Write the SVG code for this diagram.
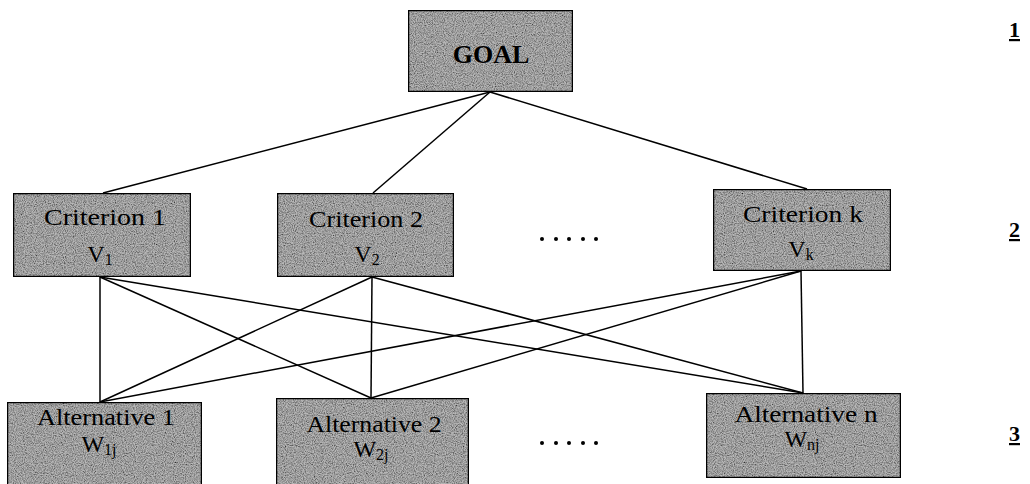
<svg xmlns="http://www.w3.org/2000/svg" width="1030" height="484" viewBox="0 0 1030 484">
  <defs>
    <filter id="grain" x="0" y="0" width="100%" height="100%">
      <feTurbulence type="fractalNoise" baseFrequency="0.9" numOctaves="2" seed="3" result="noise"/>
      <feColorMatrix in="noise" type="matrix" values="0 0 0 0 0  0 0 0 0 0  0 0 0 0 0  0 0 0 -1.6 1.1" result="dark"/>
      <feComposite in="dark" in2="SourceGraphic" operator="in" result="speck"/>
      <feMerge>
        <feMergeNode in="SourceGraphic"/>
        <feMergeNode in="speck"/>
      </feMerge>
    </filter>
  </defs>
  <style>
    .box { fill: #b8b8b8; stroke: #000; stroke-width: 2.5; }
    .lbl { font-family: "Liberation Serif", "Times New Roman", serif; font-size: 24px; fill: #000; text-anchor: middle; }
    .goal { font-family: "Liberation Serif", "Times New Roman", serif; font-size: 26px; font-weight: bold; fill: #000; text-anchor: middle; }
    .sub { font-size: 16px; }
    .lvl { font-family: "Liberation Serif", "Times New Roman", serif; font-size: 22px; font-weight: bold; fill: #000; text-decoration: underline; }
    .edge { stroke: #000; stroke-width: 1.5; fill: none; }
    .dot { fill: #000; }
  </style>
  <rect width="1030" height="484" fill="#fff"/>

  <g id="connectors">
    <line class="edge" x1="490" y1="92" x2="103" y2="193"/>
    <line class="edge" x1="490" y1="92" x2="373" y2="193"/>
    <line class="edge" x1="490" y1="92" x2="807" y2="189"/>

    <line class="edge" x1="100" y1="277" x2="100" y2="402"/>
    <line class="edge" x1="100" y1="277" x2="371" y2="398"/>
    <line class="edge" x1="100" y1="277" x2="803" y2="393"/>

    <line class="edge" x1="372" y1="277" x2="100" y2="402"/>
    <line class="edge" x1="372" y1="277" x2="371" y2="398"/>
    <line class="edge" x1="372" y1="277" x2="803" y2="393"/>

    <line class="edge" x1="801" y1="271" x2="100" y2="402"/>
    <line class="edge" x1="801" y1="271" x2="371" y2="398"/>
    <line class="edge" x1="801" y1="271" x2="803" y2="393"/>
  </g>

  <g id="goal">
    <rect class="box" x="408" y="10" width="165" height="82" filter="url(#grain)"/>
    <text class="goal" x="491" y="63">GOAL</text>
  </g>

  <g id="criterion1">
    <rect class="box" x="13" y="193" width="178" height="84" filter="url(#grain)"/>
    <text class="lbl" x="105" y="225" textLength="122" lengthAdjust="spacingAndGlyphs">Criterion 1</text>
    <text class="lbl" x="100" y="262">V<tspan class="sub" dy="3">1</tspan></text>
  </g>

  <g id="criterion2">
    <rect class="box" x="277" y="193" width="177" height="84" filter="url(#grain)"/>
    <text class="lbl" x="366" y="227" textLength="114" lengthAdjust="spacingAndGlyphs">Criterion 2</text>
    <text class="lbl" x="367" y="262">V<tspan class="sub" dy="3">2</tspan></text>
  </g>

  <g id="criterionk">
    <rect class="box" x="713" y="189" width="178" height="82" filter="url(#grain)"/>
    <text class="lbl" x="803" y="222" textLength="120" lengthAdjust="spacingAndGlyphs">Criterion k</text>
    <text class="lbl" x="801" y="257">V<tspan class="sub" dy="3">k</tspan></text>
  </g>

  <g id="alternative1">
    <rect class="box" x="7" y="402" width="195" height="84" filter="url(#grain)"/>
    <text class="lbl" x="106" y="425" textLength="138" lengthAdjust="spacingAndGlyphs">Alternative 1</text>
    <text class="lbl" x="99" y="452">W<tspan class="sub" dy="3">1j</tspan></text>
  </g>

  <g id="alternative2">
    <rect class="box" x="276" y="398" width="193" height="88" filter="url(#grain)"/>
    <text class="lbl" x="374" y="432" textLength="135" lengthAdjust="spacingAndGlyphs">Alternative 2</text>
    <text class="lbl" x="371" y="457">W<tspan class="sub" dy="3">2j</tspan></text>
  </g>

  <g id="alternativen">
    <rect class="box" x="706" y="393" width="195" height="85" filter="url(#grain)"/>
    <text class="lbl" x="806" y="422" textLength="143" lengthAdjust="spacingAndGlyphs">Alternative n</text>
    <text class="lbl" x="802" y="447">W<tspan class="sub" dy="3">nj</tspan></text>
  </g>

  <g id="ellipsis-top">
    <circle class="dot" cx="542" cy="239" r="2"/>
    <circle class="dot" cx="556" cy="239" r="2"/>
    <circle class="dot" cx="569" cy="239" r="2"/>
    <circle class="dot" cx="583" cy="239" r="2"/>
    <circle class="dot" cx="596" cy="239" r="2"/>
  </g>
  <g id="ellipsis-bottom">
    <circle class="dot" cx="542" cy="443" r="2"/>
    <circle class="dot" cx="556" cy="443" r="2"/>
    <circle class="dot" cx="569" cy="443" r="2"/>
    <circle class="dot" cx="583" cy="443" r="2"/>
    <circle class="dot" cx="596" cy="443" r="2"/>
  </g>

  <g id="levels">
    <text class="lvl" x="1009" y="37">1</text>
    <text class="lvl" x="1009" y="237">2</text>
    <text class="lvl" x="1009" y="441">3</text>
  </g>
</svg>
